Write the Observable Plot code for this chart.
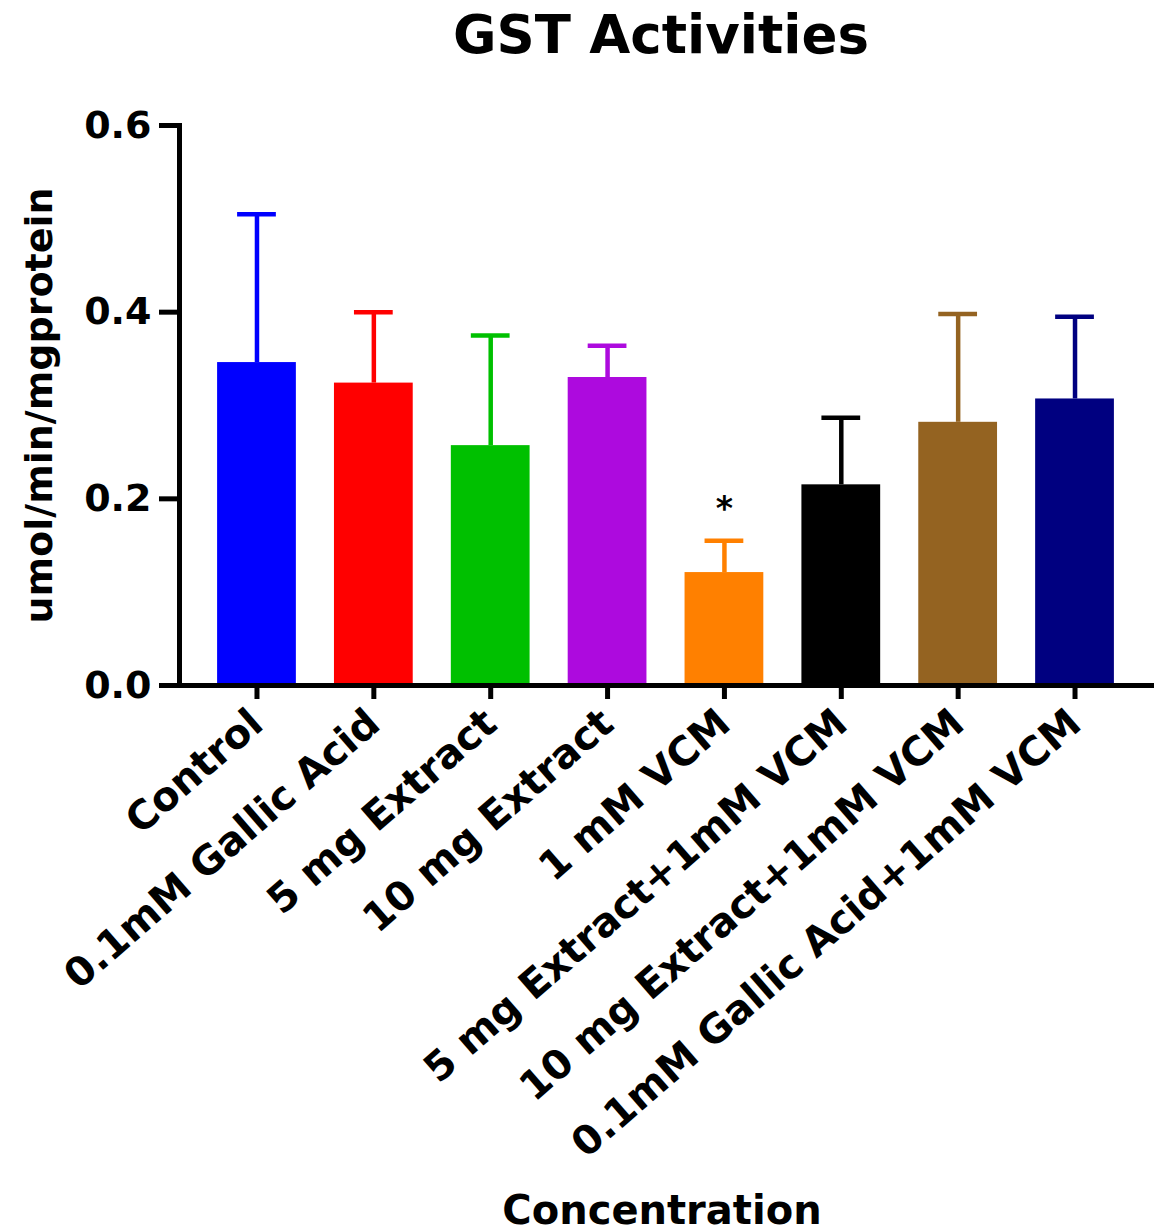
<!DOCTYPE html>
<html>
<head>
<meta charset="utf-8">
<script src="https://cdn.jsdelivr.net/npm/d3@7"></script>
<script src="https://cdn.jsdelivr.net/npm/@observablehq/plot@0.6"></script>
<style>
  html, body { margin: 0; padding: 0; background: #fff; overflow: hidden; }
  body { width: 1154px; height: 1231px; font-family: "DejaVu Sans", sans-serif; color: #000; }
  .title { height: 70px; line-height: 70px; font-size: 53px; font-weight: bold; text-align: center; padding-left: 168px; box-sizing: border-box; white-space: nowrap; }
  .xlabel { height: 56px; line-height: 46px; padding-top: 12px; font-size: 40px; font-weight: bold; text-align: center; padding-left: 170px; box-sizing: border-box; white-space: nowrap; }
  #chart svg { display: block; }
</style>
</head>
<body>
<div class="title">GST Activities</div>
<div id="chart"></div>
<div class="xlabel">Concentration</div>
<script>
const categories = [
  "Control",
  "0.1mM Gallic Acid",
  "5 mg Extract",
  "10 mg Extract",
  "1 mM VCM",
  "5 mg Extract+1mM VCM",
  "10 mg Extract+1mM VCM",
  "0.1mM Gallic Acid+1mM VCM"
];
const means = [0.346, 0.324, 0.257, 0.330, 0.121, 0.215, 0.282, 0.307];
const errors = [0.159, 0.076, 0.118, 0.034, 0.034, 0.072, 0.116, 0.088];
const colors = ["#0000FF", "#FF0000", "#00C000", "#AD0ADE", "#FF8000", "#000000", "#946321", "#000080"];
const yTicks = [0, 0.2, 0.4, 0.6];
const yLabel = "umol/min/mgprotein";
const significant = ["1 mM VCM"];
const sigMark = "*";

const data = categories.map((c, i) => ({cat: c, mean: means[i], upper: means[i] + errors[i]}));
const starData = data.filter(d => significant.includes(d.cat));

const chart = Plot.plot({
  width: 1154,
  height: 1105,
  marginLeft: 179,
  marginRight: 2,
  marginTop: 55,
  marginBottom: 490,
  style: {fontFamily: "DejaVu Sans", background: "#fff", color: "#000"},
  x: {domain: categories, padding: 0.326, round: false, label: null},
  y: {domain: [0, 0.6], label: null},
  color: {domain: categories, range: colors},
  marks: [
    Plot.barY(data, {x: "cat", y: "mean", fill: "cat"}),
    Plot.ruleX(data, {x: "cat", y1: "mean", y2: "upper", stroke: "cat", strokeWidth: 4.5}),
    Plot.tickY(data, {x: "cat", y: "upper", stroke: "cat", strokeWidth: 4.5, insetLeft: 20, insetRight: 20}),
    Plot.text(starData, {x: "cat", y: "upper", text: () => sigMark, dy: -31, fontSize: 33, fontWeight: "bold", lineAnchor: "middle"}),
    Plot.ruleY([0], {strokeWidth: 5, strokeLinecap: "square"}),
    Plot.frame({anchor: "left", strokeWidth: 5, strokeLinecap: "square"}),
    Plot.axisY({ticks: yTicks, tickFormat: d3.format(".1f"), tickSize: 20, tickPadding: 8, strokeWidth: 5, fontSize: 38, fontWeight: "bold", label: null}),
    Plot.axisX({tickSize: 14, tickRotate: -41, tickPadding: 18, strokeWidth: 5, fontSize: 40, fontWeight: "bold", label: null}),
    Plot.text([yLabel], {frameAnchor: "left", dx: -154, rotate: -90, lineAnchor: "top", textAnchor: "middle", fontSize: 38, fontWeight: "bold"})
  ]
});
document.getElementById("chart").appendChild(chart);
</script>
</body>
</html>
